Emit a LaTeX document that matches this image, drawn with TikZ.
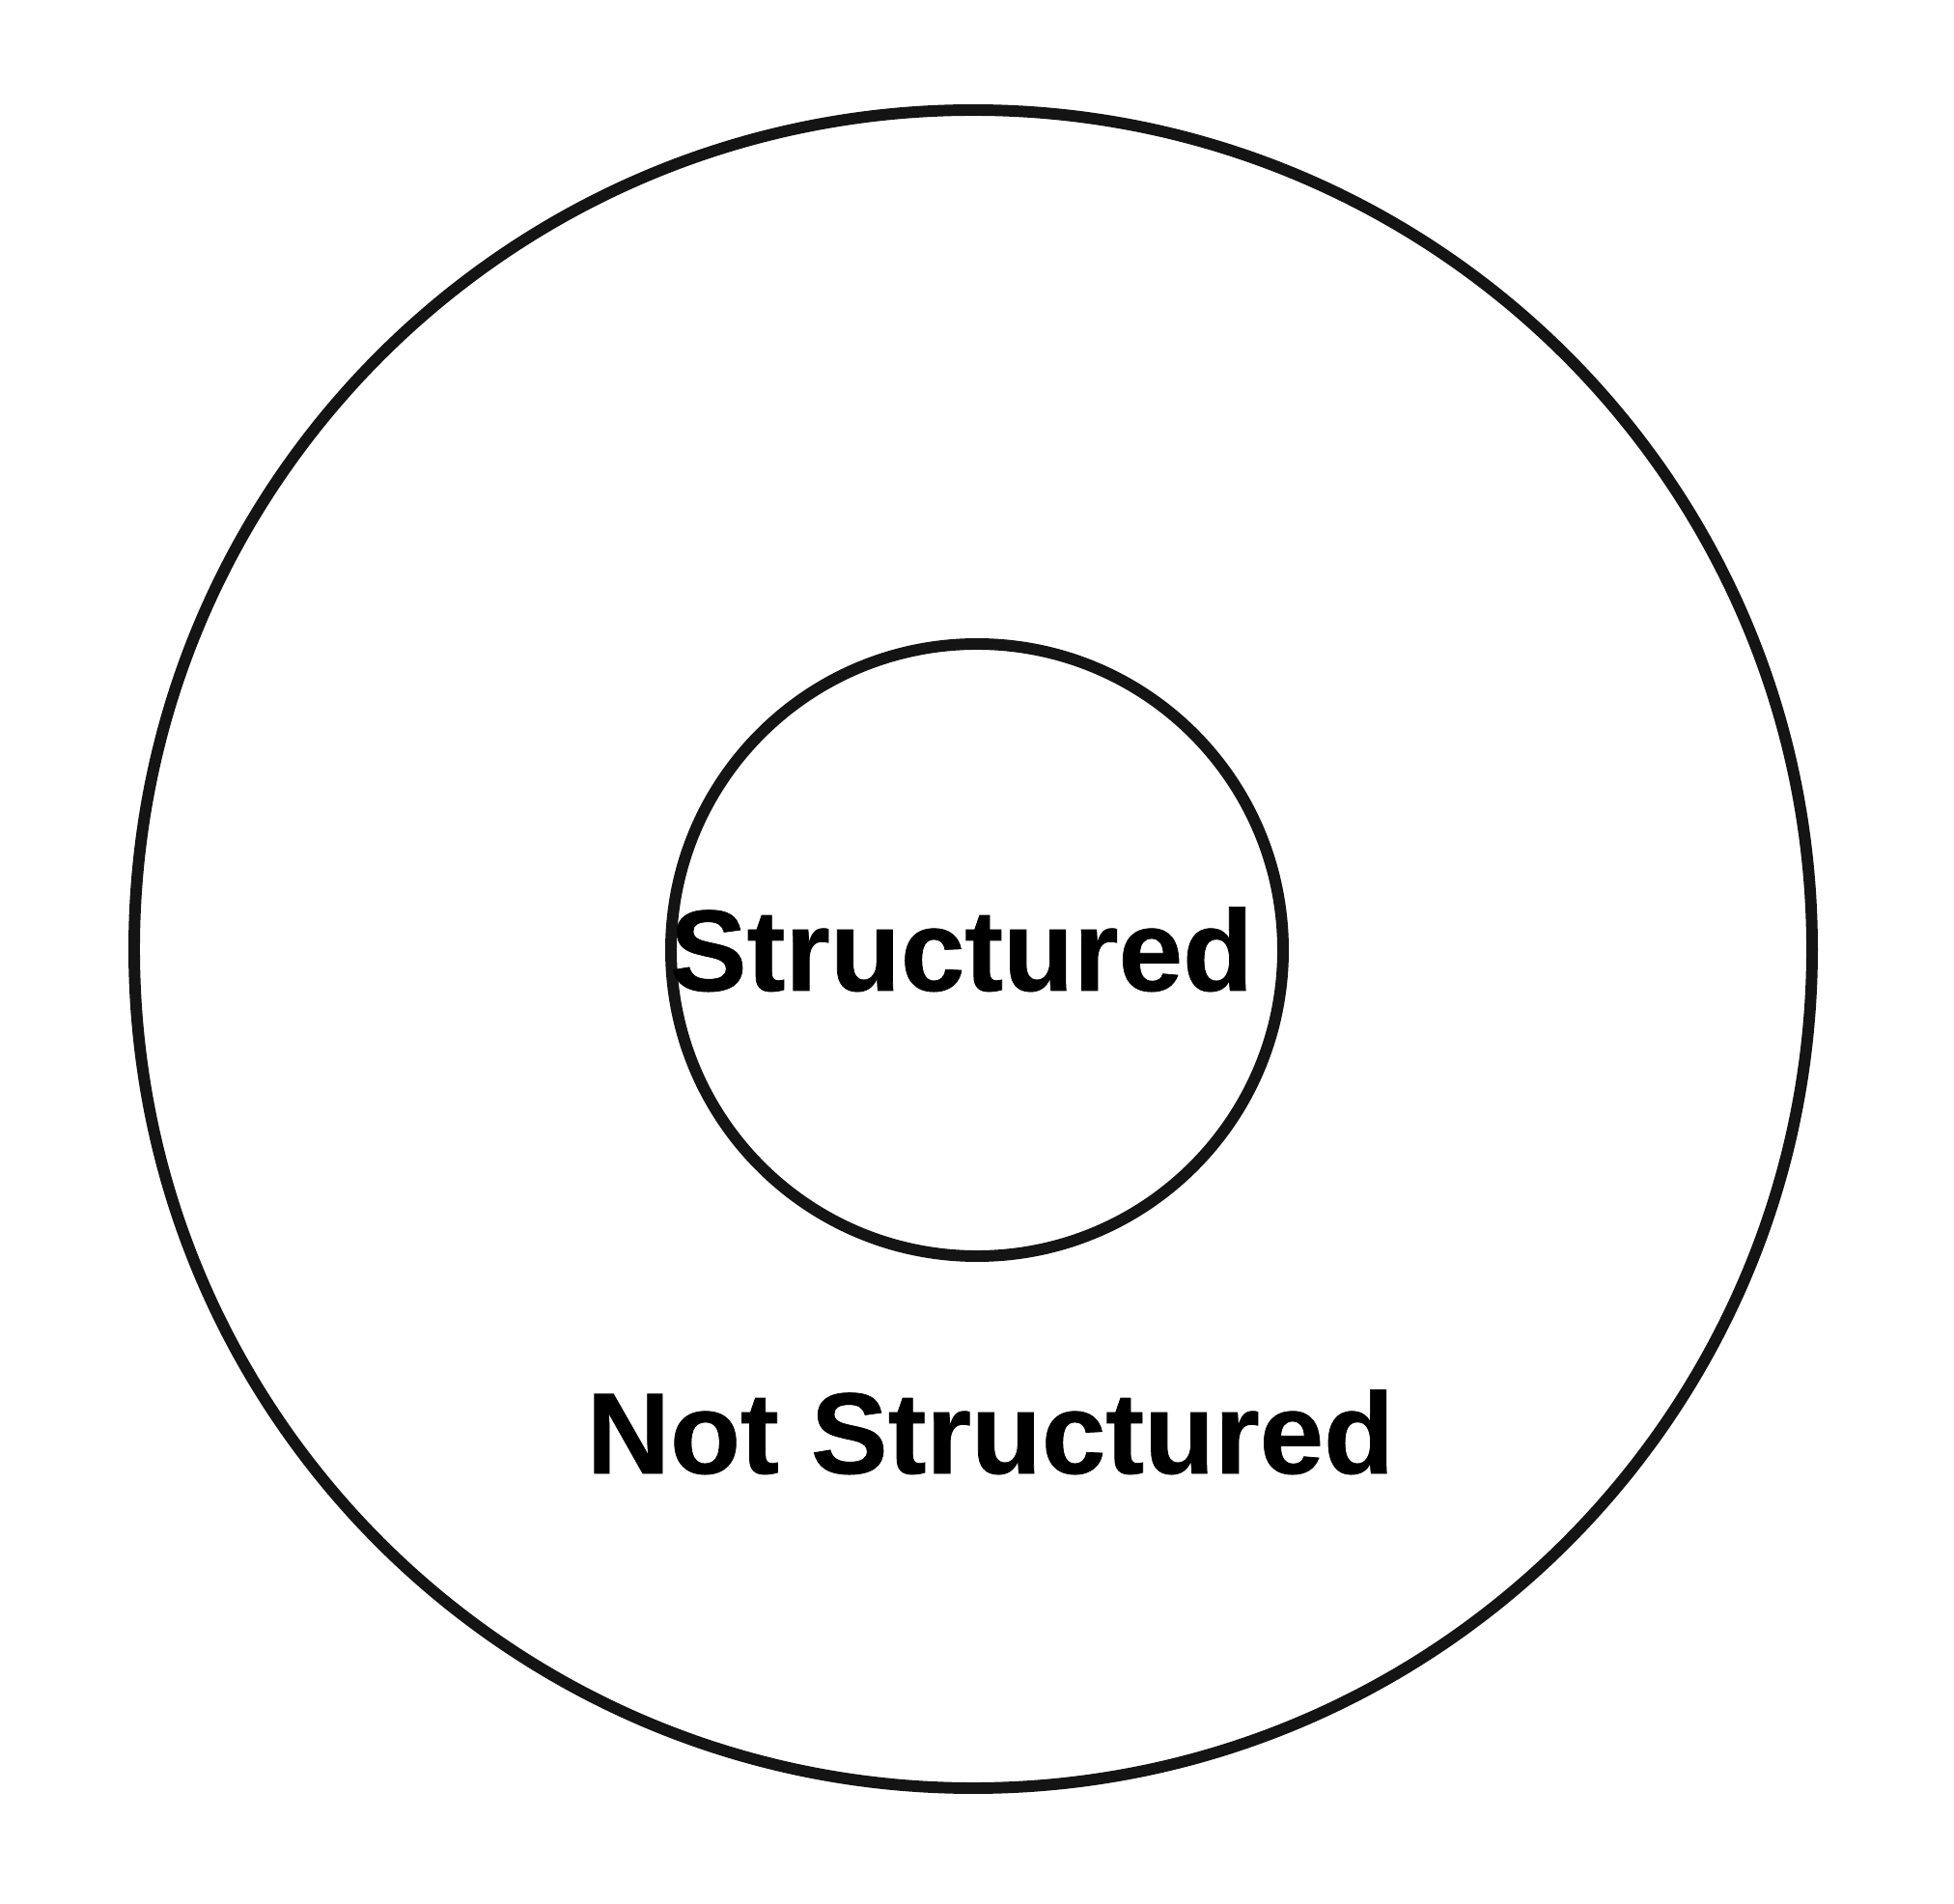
\documentclass[tikz,border=0pt]{standalone}
\usepackage{fontspec}
\setmainfont[BoldFeatures={FakeBold=0.6}]{Liberation Sans}
\tikzset{
  ring/.style = {draw=black!92, line width=3.4pt},
  lbl/.style  = {font=\fontsize{34}{40}\selectfont\bfseries, anchor=base, inner sep=0pt}
}

\begin{document}
\begin{tikzpicture}[scale=1]
\useasboundingbox (0,0) rectangle (20.24,19.71);
\coordinate (O) at (10.08,9.88);
\coordinate (I) at (10.12,9.87);
\draw[ring] (O) circle (8.69);             % outer ring
\draw[ring] (I) circle (3.17);             % inner ring
\node[lbl] (s) at (9.96,9.45){Structured};
\node[lbl] (n) at (10.26,4.45){Not Structured};
\end{tikzpicture}
\end{document}
